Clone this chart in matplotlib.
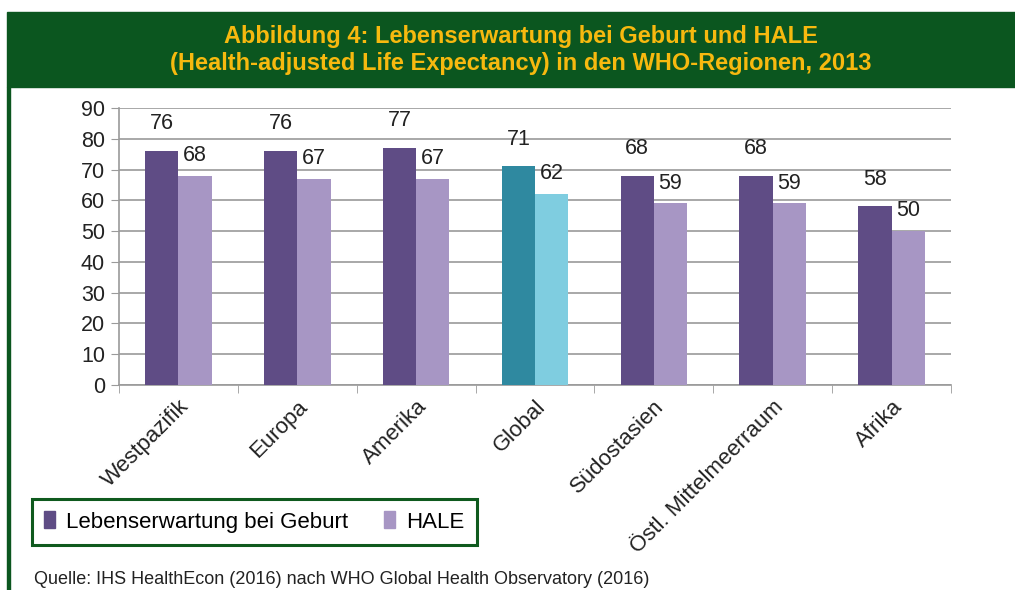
import matplotlib.pyplot as plt
import numpy as np
from matplotlib.patches import Rectangle

regions = ["Westpazifik", "Europa", "Amerika", "Global", "Südostasien",
           "Östl. Mittelmeerraum", "Afrika"]
lebenserwartung = [76, 76, 77, 71, 68, 68, 58]
hale = [68, 67, 67, 62, 59, 59, 50]
series_names = ["Lebenserwartung bei Geburt", "HALE"]
title = "Abbildung 4: Lebenserwartung bei Geburt und HALE\n(Health-adjusted Life Expectancy) in den WHO-Regionen, 2013"
source = "Quelle: IHS HealthEcon (2016) nach WHO Global Health Observatory (2016)"

dark = "#5f4c85"
light = "#a796c4"
dark_global = "#2f89a0"
light_global = "#7fcde0"
green = "#0b561f"
gold = "#f7b90f"

plt.rcParams['font.family'] = ['Liberation Sans', 'DejaVu Sans']

fig = plt.figure(figsize=(10.15, 5.9), dpi=100)

# green title banner and left border
fig.patches.append(Rectangle((7 / 1015, 1 - 87 / 590), 1 - 7 / 1015, 75 / 590,
                             transform=fig.transFigure, color=green, zorder=0))
fig.patches.append(Rectangle((7 / 1015, 0), 3 / 1015, 1 - 87 / 590,
                             transform=fig.transFigure, color=green, zorder=0))
fig.text(0.513, 1 - 50 / 590, title, ha="center", va="center", color=gold,
         fontsize=17, fontweight="bold", linespacing=1.2)

ax = fig.add_axes([119 / 1015, 1 - 385 / 590, (951 - 119) / 1015, (385 - 108) / 590])

x = np.arange(len(regions))
w = 0.28
dark_cols = [dark_global if r == "Global" else dark for r in regions]
light_cols = [light_global if r == "Global" else light for r in regions]
b1 = ax.bar(x - w / 2, lebenserwartung, w, color=dark_cols, zorder=3, label=series_names[0])
b2 = ax.bar(x + w / 2, hale, w, color=light_cols, zorder=3, label=series_names[1])

for xi, v in zip(x, lebenserwartung):
    ax.annotate(str(v), (xi - w / 2, v), xytext=(0, 12), textcoords="offset points",
                ha="center", va="bottom", fontsize=15.5, color="#222222")
for xi, v in zip(x, hale):
    ax.annotate(str(v), (xi + w / 2, v), xytext=(0, 7), textcoords="offset points",
                ha="center", va="bottom", fontsize=15.5, color="#222222")

ax.set_xlim(-0.5, len(regions) - 0.5)
ax.set_ylim(0, 90)
ax.set_yticks(range(0, 91, 10))
ax.tick_params(axis="y", labelsize=15.5, length=6, color="#9a9a9a", labelcolor="#222222", pad=4)
ax.yaxis.grid(True, color="#9a9a9a", linewidth=1.2, zorder=0)

ax.set_xticks(x)
ax.set_xticklabels(regions, rotation=45, ha="right", rotation_mode="anchor",
                   fontsize=16, color="#222222")
ax.tick_params(axis="x", length=0, pad=8)
ax.set_xticks(np.arange(-0.5, len(regions)), minor=True)
ax.tick_params(axis="x", which="minor", length=6, color="#9a9a9a")

for s in ["top", "right"]:
    ax.spines[s].set_visible(False)
ax.spines["left"].set_color("#9a9a9a")
ax.spines["bottom"].set_color("#9a9a9a")
ax.spines["left"].set_linewidth(1.2)
ax.spines["bottom"].set_linewidth(1.2)

leg = fig.legend(handles=[b1, b2], labels=series_names, loc="center left",
                 bbox_to_anchor=(32 / 1015, 1 - 522 / 590), borderaxespad=0,
                 ncol=2, fontsize=16,
                 frameon=True, fancybox=False, edgecolor="#0f5a1e", framealpha=1,
                 handlelength=0.5, handleheight=0.8, handletextpad=0.5,
                 columnspacing=1.6, borderpad=0.55)
leg.get_frame().set_linewidth(2.2)
leg.legend_handles[0].set_color(dark)
leg.legend_handles[1].set_color(light)

fig.text(34 / 1015, 1 - 580 / 590, source, ha="left", va="center", fontsize=13,
         color="#222222")

plt.savefig("out.png", dpi=100)
